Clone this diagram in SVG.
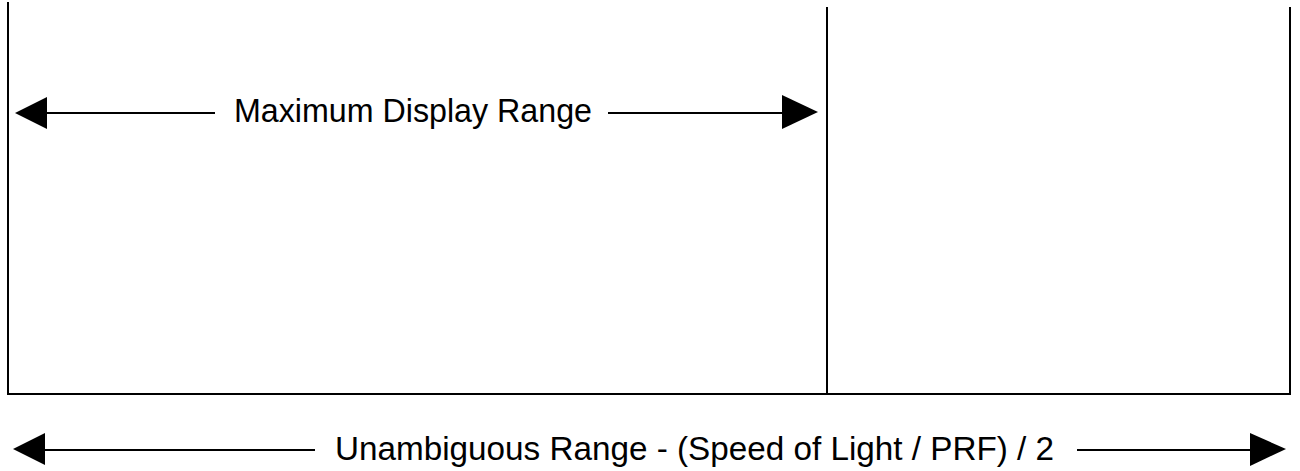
<svg xmlns="http://www.w3.org/2000/svg" width="1300" height="471" viewBox="0 0 1300 471">
  <style>
    .frame { stroke: #000; stroke-width: 2; fill: none; }
    .dim { stroke: #000; stroke-width: 2; fill: none; }
    .head { fill: #000; stroke: none; }
    .label { font-family: "Liberation Sans", Arial, sans-serif; font-size: 32.5px; fill: #000; }
  </style>
  <rect width="1300" height="471" fill="#fff"/>

  <!-- range frame -->
  <g id="frame">
    <polyline class="frame" points="8,2 8,394 1290,394 1290,7"/>
    <line class="frame" x1="827" y1="7" x2="827" y2="394"/>
  </g>

  <!-- dimension arrows -->
  <g id="connectors">
    <line class="dim" x1="46" y1="113" x2="215" y2="113"/>
    <line class="dim" x1="608" y1="113" x2="783" y2="113"/>
    <polygon class="head" points="15,113 47,97 47,129"/>
    <polygon class="head" points="818,112 782,95 782,129"/>

    <line class="dim" x1="44" y1="450" x2="315" y2="450"/>
    <line class="dim" x1="1077" y1="450" x2="1251" y2="450"/>
    <polygon class="head" points="13,449 45,433 45,465"/>
    <polygon class="head" points="1286,449 1250,433 1250,466"/>
  </g>

  <g id="max-display-range">
    <text class="label" x="234" y="122" textLength="358" lengthAdjust="spacingAndGlyphs">Maximum Display Range</text>
  </g>
  <g id="unambiguous-range">
    <text class="label" x="335" y="460" textLength="719" lengthAdjust="spacingAndGlyphs">Unambiguous Range - (Speed of Light / PRF) / 2</text>
  </g>
</svg>
